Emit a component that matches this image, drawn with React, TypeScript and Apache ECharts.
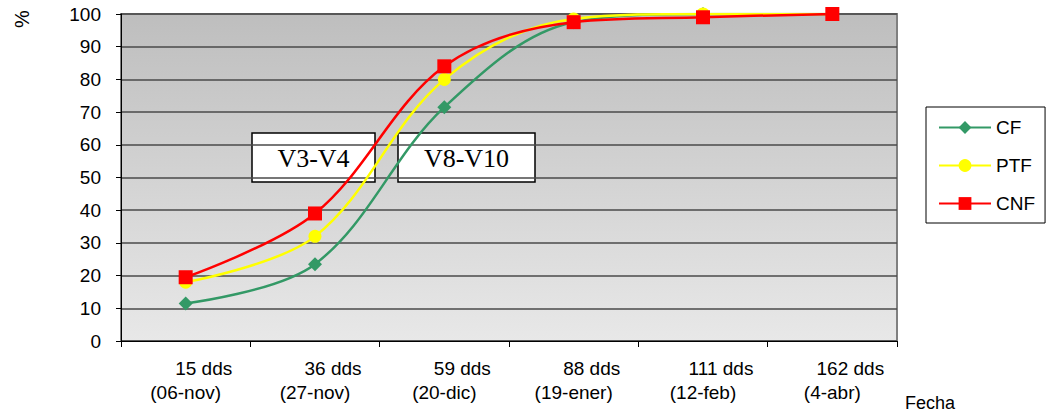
import React, { useEffect, useRef } from "react";
import * as echarts from "echarts";

const categories = ["15 dds", "36 dds", "59 dds", "88 dds", "111 dds", "162 dds"];
const dates = ["(06-nov)", "(27-nov)", "(20-dic)", "(19-ener)", "(12-feb)", "(4-abr)"];
const cfValues = [11.5, 23.5, 71.5, 97.5, 100, 100];
const ptfValues = [18, 32, 80, 98.5, 100, 100];
const cnfValues = [19.5, 39, 84, 97.5, 99, 100];
const yTicks = { min: 0, max: 100, interval: 10 };

export default function App() {
  const ref = useRef<HTMLDivElement>(null);
  useEffect(() => {
    if (!ref.current) return;
    const chart = echarts.init(ref.current, null, { renderer: "svg" });
    const font = "Arial, 'Liberation Sans', sans-serif";
    const labels = categories.map((c, i) => `{a|${c}}\n{b|${dates[i]}}`);
    const smooth = 0.35;
    chart.setOption({
      animation: false,
      textStyle: { fontFamily: font },
      grid: {
        left: 121,
        right: 153,
        top: 14,
        bottom: 73,
        show: true,
        borderColor: "#808080",
        borderWidth: 2,
        backgroundColor: new echarts.graphic.LinearGradient(0, 0, 0, 1, [
          { offset: 0, color: "#bebebe" },
          { offset: 1, color: "#e8e8e8" },
        ]),
      },
      legend: {
        orient: "vertical",
        left: 926,
        top: 107,
        padding: [11, 10, 10, 12],
        borderColor: "#000",
        borderWidth: 1,
        backgroundColor: "#fff",
        itemWidth: 52,
        itemHeight: 16,
        itemGap: 19,
        textStyle: { fontSize: 19, color: "#000", fontFamily: font, lineHeight: 16 },
        data: ["CF", "PTF", "CNF"],
      },
      xAxis: {
        type: "category",
        data: labels,
        boundaryGap: true,
        axisLine: { lineStyle: { color: "#000", width: 1 } },
        axisTick: { show: true, length: 6, lineStyle: { color: "#000" } },
        axisLabel: {
          interval: 0,
          margin: 15,
          color: "#000",
          fontFamily: font,
          rich: {
            a: { fontSize: 19, lineHeight: 24, color: "#000", fontFamily: font, padding: [0, 0, 0, 36] },
            b: { fontSize: 19, lineHeight: 24, color: "#000", fontFamily: font },
          },
        },
      },
      yAxis: {
        type: "value",
        min: yTicks.min,
        max: yTicks.max,
        interval: yTicks.interval,
        axisLine: { show: true, lineStyle: { color: "#000", width: 1 } },
        axisTick: { show: true, length: 5, lineStyle: { color: "#000" } },
        axisLabel: { fontSize: 19, color: "#000", margin: 20, fontFamily: font },
        splitLine: { lineStyle: { color: "#4a4a4a", width: 1.5 } },
      },
      series: [
        {
          name: "CF",
          type: "line",
          data: cfValues,
          smooth,
          symbol: "diamond",
          symbolSize: 14,
          lineStyle: { color: "#339966", width: 2.5 },
          itemStyle: { color: "#339966" },
        },
        {
          name: "PTF",
          type: "line",
          data: ptfValues,
          smooth,
          symbol: "circle",
          symbolSize: 13,
          lineStyle: { color: "#ffff00", width: 2.5 },
          itemStyle: { color: "#ffff00" },
        },
        {
          name: "CNF",
          type: "line",
          data: cnfValues,
          smooth,
          symbol: "rect",
          symbolSize: 14,
          lineStyle: { color: "#ff0000", width: 2.5 },
          itemStyle: { color: "#ff0000" },
        },
      ],
      graphic: [
        {
          type: "text",
          x: 12,
          y: 28,
          rotation: Math.PI / 2,
          style: { text: "%", fill: "#000", font: `20px ${font}` },
        },
        {
          type: "text",
          x: 905,
          y: 394,
          style: { text: "Fecha", fill: "#000", font: `18px ${font}` },
        },
        {
          type: "group",
          x: 252,
          y: 133,
          children: [
            {
              type: "rect",
              shape: { x: 0, y: 0, width: 123, height: 49 },
              style: { fill: "#fff", stroke: "#000", lineWidth: 1.5 },
            },
            {
              type: "text",
              x: 61.5,
              y: 25,
              style: {
                text: "V3-V4",
                fill: "#000",
                font: "26px 'Liberation Serif', 'Times New Roman', serif",
                align: "center",
                verticalAlign: "middle",
              },
            },
          ],
        },
        {
          type: "group",
          x: 398,
          y: 133,
          children: [
            {
              type: "rect",
              shape: { x: 0, y: 0, width: 137, height: 49 },
              style: { fill: "#fff", stroke: "#000", lineWidth: 1.5 },
            },
            {
              type: "text",
              x: 68.5,
              y: 25,
              style: {
                text: "V8-V10",
                fill: "#000",
                font: "26px 'Liberation Serif', 'Times New Roman', serif",
                align: "center",
                verticalAlign: "middle",
              },
            },
          ],
        },
      ],
    });
    return () => chart.dispose();
  }, []);
  return <div ref={ref} style={{ width: 1050, height: 414, position: "absolute", left: 0, top: 0 }} />;
}
